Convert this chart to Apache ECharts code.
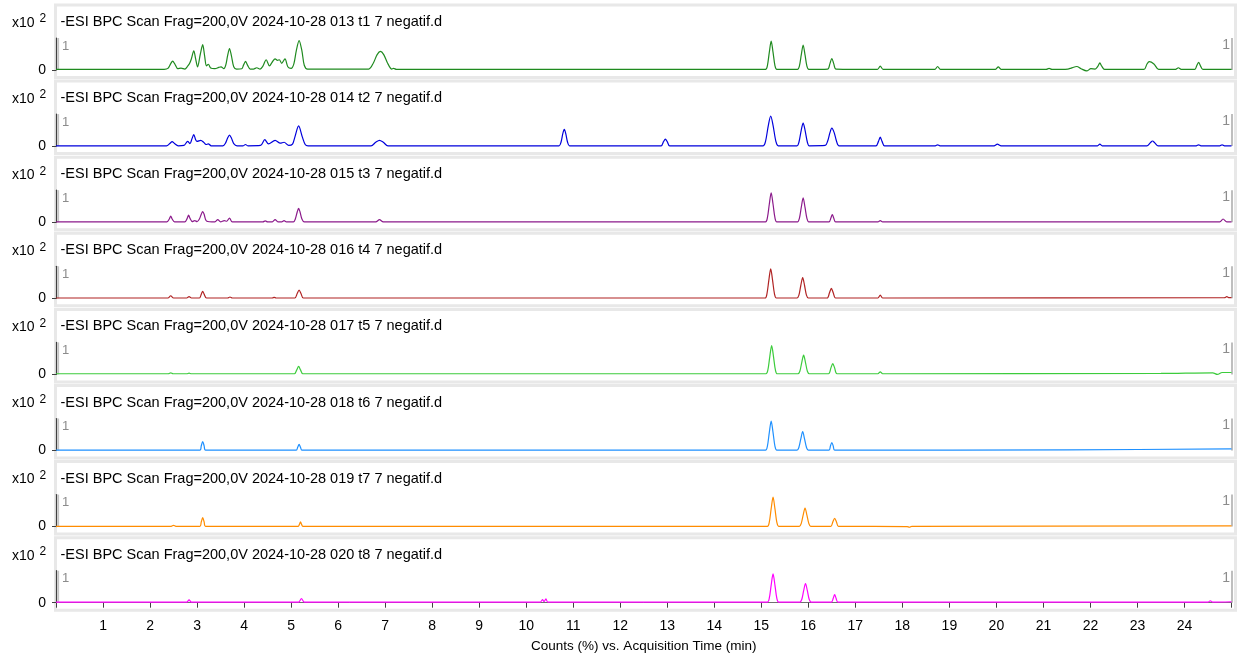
<!DOCTYPE html>
<html>
<head>
<meta charset="utf-8">
<title>BPC chromatograms</title>
<script src="https://cdn.jsdelivr.net/npm/echarts@6/dist/echarts.min.js"></script>
<style>
  html, body { margin: 0; padding: 0; background: #ffffff; }
  #chart { width: 1238px; height: 658px; }
</style>
</head>
<body>
<div id="chart"></div>
<script>
// Base peak chromatograms, one panel per injection (time in min, counts in x10^2 %)
const traceTitles = [
  '-ESI BPC Scan Frag=200,0V 2024-10-28 013 t1 7 negatif.d',
  '-ESI BPC Scan Frag=200,0V 2024-10-28 014 t2 7 negatif.d',
  '-ESI BPC Scan Frag=200,0V 2024-10-28 015 t3 7 negatif.d',
  '-ESI BPC Scan Frag=200,0V 2024-10-28 016 t4 7 negatif.d',
  '-ESI BPC Scan Frag=200,0V 2024-10-28 017 t5 7 negatif.d',
  '-ESI BPC Scan Frag=200,0V 2024-10-28 018 t6 7 negatif.d',
  '-ESI BPC Scan Frag=200,0V 2024-10-28 019 t7 7 negatif.d',
  '-ESI BPC Scan Frag=200,0V 2024-10-28 020 t8 7 negatif.d'
];

const traceColors = ['#1f8a1f', '#0000dc', '#8b1a8b', '#b02323', '#3ccc3c', '#1e90ff', '#ff8c00', '#ff00ff'];

const timeTicks = [1, 2, 3, 4, 5, 6, 7, 8, 9, 10, 11, 12, 13, 14, 15, 16, 17, 18, 19, 20, 21, 22, 23, 24];

const t1 = [
  [0,0.02],[2.3,0.02],[2.38,0.05],[2.44,0.2],[2.48,0.28],[2.53,0.18],[2.59,0.04],[2.66,0.06],[2.74,0.03],[2.8,0.12],
  [2.84,0.2],[2.88,0.35],[2.93,0.6],[2.97,0.35],[3.01,0.1],[3.07,0.5],[3.12,0.79],[3.16,0.45],[3.2,0.13],[3.24,0.18],
  [3.29,0.06],[3.38,0.04],[3.46,0.08],[3.51,0.1],[3.57,0.04],[3.61,0.15],[3.65,0.45],[3.69,0.67],[3.73,0.45],[3.78,0.1],
  [3.84,0.03],[3.95,0.04],[3.99,0.16],[4.03,0.27],[4.07,0.16],[4.13,0.03],[4.2,0.03],[4.27,0.07],[4.34,0.03],[4.4,0.12],
  [4.47,0.32],[4.54,0.13],[4.6,0.25],[4.66,0.35],[4.71,0.3],[4.75,0.32],[4.8,0.21],[4.87,0.35],[4.93,0.1],[5.0,0.05],
  [5.06,0.2],[5.11,0.6],[5.17,0.92],[5.23,0.6],[5.28,0.15],[5.35,0.03],[6.65,0.03],[6.75,0.22],[6.83,0.48],[6.9,0.58],
  [6.97,0.48],[7.05,0.22],[7.14,0.03],[7.18,0.05],[7.24,0.02],
  [15.09,0.02],[15.13,0.14],[15.17,0.55],[15.21,0.9],[15.25,0.55],[15.29,0.14],[15.33,0.02],[15.77,0.02],[15.81,0.12],
  [15.85,0.47],[15.89,0.78],[15.93,0.47],[15.97,0.12],[16.01,0.02],[16.41,0.03],[16.46,0.2],[16.5,0.36],[16.54,0.2],
  [16.59,0.03],[17.47,0.02],[17.53,0.12],[17.59,0.02],[18.69,0.02],[18.75,0.11],[18.81,0.02],[19.98,0.02],[20.04,0.1],
  [20.1,0.02],[21.06,0.02],[21.12,0.05],[21.18,0.02],[21.52,0.03],[21.59,0.06],[21.71,0.11],[21.8,0.04],[21.92,-0.03],
  [22.01,0.04],[22.1,0.03],[22.16,0.12],[22.2,0.22],[22.24,0.12],[22.3,0.02],[23.14,0.02],[23.2,0.18],[23.25,0.26],
  [23.35,0.19],[23.45,0.02],[23.81,0.02],[23.87,0.07],[23.93,0.02],[24.22,0.02],[24.26,0.13],[24.3,0.24],[24.34,0.13],
  [24.39,0.02],[25,0.02]
];

const t2 = [
  [0,0.01],[2.35,0.01],[2.42,0.08],[2.47,0.14],[2.52,0.08],[2.6,0.01],[2.72,0.02],[2.8,0.15],[2.85,0.08],[2.89,0.22],
  [2.93,0.36],[2.97,0.2],[3.0,0.15],[3.08,0.18],[3.14,0.12],[3.19,0.05],[3.24,0.07],[3.3,0.01],[3.55,0.01],[3.6,0.08],
  [3.65,0.25],[3.69,0.34],[3.73,0.25],[3.78,0.08],[3.85,0.01],[3.98,0.01],[4.03,0.05],[4.08,0.01],[4.35,0.02],[4.44,0.2],
  [4.52,0.07],[4.66,0.18],[4.77,0.09],[4.85,0.12],[4.95,0.02],[5.03,0.06],[5.08,0.28],[5.16,0.63],[5.24,0.28],[5.3,0.05],
  [5.36,0.01],[6.7,0.01],[6.8,0.12],[6.88,0.18],[6.96,0.12],[7.06,0.01],[10.7,0.01],[10.74,0.12],[10.78,0.4],[10.81,0.52],
  [10.84,0.4],[10.88,0.12],[10.92,0.01],[12.87,0.01],[12.92,0.14],[12.96,0.22],[13.0,0.14],[13.05,0.01],
  [15.04,0.01],[15.09,0.15],[15.15,0.65],[15.2,0.94],[15.25,0.65],[15.31,0.15],[15.36,0.01],[15.76,0.01],[15.8,0.12],
  [15.85,0.5],[15.89,0.72],[15.93,0.5],[15.98,0.12],[16.02,0.01],[16.36,0.02],[16.41,0.15],[16.46,0.42],[16.5,0.56],
  [16.55,0.42],[16.6,0.15],[16.65,0.01],[17.44,0.01],[17.49,0.14],[17.53,0.28],[17.57,0.14],[17.62,0.01],[18.7,0.01],
  [18.75,0.04],[18.8,0.01],[19.95,0.01],[20.02,0.06],[20.1,0.01],[22.15,0.01],[22.2,0.06],[22.25,0.01],[23.2,0.01],
  [23.27,0.1],[23.32,0.16],[23.37,0.1],[23.44,0.01],[24.25,0.01],[24.3,0.04],[24.35,0.01],[24.75,0.01],[24.8,0.04],
  [24.85,0.01],[25,0.01]
];

const t3 = [
  [0,0.01],[2.36,0.01],[2.41,0.1],[2.44,0.19],[2.47,0.1],[2.52,0.01],[2.74,0.01],[2.79,0.12],[2.82,0.22],[2.85,0.12],
  [2.9,0.02],[2.95,0.05],[3.0,0.02],[3.05,0.1],[3.09,0.25],[3.12,0.33],[3.15,0.25],[3.2,0.04],[3.38,0.01],[3.44,0.08],
  [3.5,0.01],[3.58,0.05],[3.63,0.03],[3.69,0.13],[3.75,0.01],[4.4,0.01],[4.45,0.04],[4.5,0.01],[4.6,0.01],[4.66,0.08],
  [4.72,0.01],[4.8,0.01],[4.85,0.05],[4.9,0.01],[5.05,0.01],[5.09,0.1],[5.13,0.32],[5.16,0.43],[5.19,0.32],[5.23,0.1],
  [5.28,0.01],[6.8,0.01],[6.88,0.08],[6.96,0.01],
  [15.09,0.01],[15.13,0.14],[15.17,0.56],[15.21,0.92],[15.25,0.56],[15.29,0.14],[15.33,0.01],[15.77,0.01],[15.81,0.12],
  [15.85,0.46],[15.89,0.76],[15.93,0.46],[15.97,0.12],[16.01,0.01],[16.44,0.01],[16.48,0.13],[16.51,0.24],[16.54,0.13],
  [16.58,0.01],[17.48,0.01],[17.53,0.05],[17.58,0.01],[24.75,0.01],[24.82,0.1],[24.9,0.01],[25,0.01]
];

const t4 = [
  [0,0.01],[2.38,0.01],[2.44,0.08],[2.5,0.01],[2.78,0.01],[2.83,0.05],[2.88,0.01],[3.05,0.01],[3.09,0.13],[3.12,0.22],
  [3.15,0.13],[3.2,0.01],[3.65,0.01],[3.7,0.04],[3.75,0.01],[4.6,0.01],[4.64,0.03],[4.68,0.01],[5.08,0.01],[5.13,0.15],
  [5.17,0.26],[5.21,0.15],[5.26,0.01],
  [15.08,0.01],[15.12,0.14],[15.16,0.56],[15.2,0.92],[15.24,0.56],[15.28,0.14],[15.32,0.01],[15.76,0.01],[15.8,0.1],
  [15.84,0.4],[15.88,0.65],[15.92,0.4],[15.96,0.1],[16.0,0.01],[16.4,0.01],[16.45,0.17],[16.49,0.31],[16.53,0.17],
  [16.58,0.01],[17.48,0.01],[17.53,0.1],[17.58,0.01],[24.85,0.02],[24.9,0.05],[24.95,0.02],[25,0.02]
];

const t5 = [
  [0,0.02],[2.39,0.02],[2.44,0.05],[2.49,0.02],[2.78,0.02],[2.83,0.04],[2.88,0.02],[5.07,0.02],[5.12,0.14],[5.16,0.25],
  [5.2,0.14],[5.25,0.02],
  [15.1,0.02],[15.14,0.14],[15.18,0.55],[15.22,0.9],[15.26,0.55],[15.3,0.14],[15.34,0.02],[15.78,0.02],[15.82,0.1],
  [15.86,0.37],[15.9,0.6],[15.94,0.37],[15.98,0.1],[16.02,0.02],[16.43,0.02],[16.48,0.2],[16.52,0.34],[16.56,0.2],
  [16.61,0.02],[17.48,0.02],[17.53,0.08],[17.58,0.02],[23.5,0.03],[24.6,0.05],[24.7,0.0],[24.8,0.06],[25,0.06]
];

const t6 = [
  [0,0.01],[3.06,0.01],[3.09,0.15],[3.12,0.28],[3.15,0.15],[3.18,0.01],[5.11,0.01],[5.14,0.1],[5.17,0.19],[5.2,0.1],
  [5.23,0.01],
  [15.09,0.01],[15.13,0.14],[15.17,0.56],[15.21,0.92],[15.25,0.56],[15.29,0.14],[15.33,0.01],[15.76,0.01],[15.8,0.1],
  [15.84,0.36],[15.88,0.59],[15.92,0.36],[15.96,0.1],[16.0,0.01],[16.44,0.01],[16.47,0.14],[16.5,0.25],[16.53,0.14],
  [16.56,0.01],[21.5,0.02],[25,0.05]
];

const t7 = [
  [0,0.01],[2.45,0.01],[2.5,0.04],[2.55,0.01],[3.06,0.01],[3.09,0.15],[3.12,0.28],[3.15,0.15],[3.18,0.01],[5.15,0.01],
  [5.18,0.08],[5.2,0.15],[5.22,0.08],[5.25,0.01],
  [15.13,0.01],[15.17,0.14],[15.21,0.56],[15.25,0.92],[15.29,0.56],[15.33,0.14],[15.37,0.01],[15.81,0.01],[15.85,0.1],
  [15.89,0.36],[15.93,0.58],[15.97,0.36],[16.01,0.1],[16.05,0.01],[16.48,0.01],[16.52,0.14],[16.56,0.26],[16.6,0.14],
  [16.64,0.01],[18.1,0.0],[18.15,-0.02],[18.2,0.01],[25,0.02]
];

const t8 = [
  [0,0.02],[2.78,0.02],[2.83,0.09],[2.88,0.02],[5.16,0.02],[5.22,0.13],[5.28,0.02],[10.3,0.02],[10.35,0.1],[10.38,0.03],
  [10.42,0.12],[10.46,0.02],
  [15.13,0.02],[15.17,0.14],[15.21,0.55],[15.25,0.9],[15.29,0.55],[15.33,0.14],[15.37,0.02],[15.82,0.02],[15.86,0.1],
  [15.9,0.37],[15.94,0.6],[15.98,0.37],[16.02,0.1],[16.06,0.02],[16.49,0.02],[16.53,0.14],[16.56,0.25],[16.59,0.14],
  [16.63,0.02],[24.5,0.02],[24.55,0.06],[24.6,0.02],[25,0.03]
];

const traces = [t1, t2, t3, t4, t5, t6, t7, t8];

// Panel geometry
const W = 1238;
const plotLeft = 56;
const plotRight = 1231.5;
const firstZeroY = 70;
const panelStep = 76.1;
const plotH = 32;
const FONT = 'Liberation Sans, Arial, sans-serif';

const grids = [], xAxes = [], yAxes = [], series = [], graphics = [];

traces.forEach((data, i) => {
  const zeroY = firstZeroY + i * panelStep;
  const topY = zeroY - plotH;
  const last = i === traces.length - 1;

  grids.push({ left: plotLeft, right: W - plotRight, top: topY, height: plotH });

  xAxes.push({
    type: 'value', gridIndex: i, min: 0, max: 25, interval: 1,
    show: last,
    offset: 10.5,
    axisLine: { show: true, lineStyle: { color: '#707070', width: 1 } },
    axisTick: { show: true, length: 5, lineStyle: { color: '#404040', width: 1 } },
    axisLabel: {
      show: true, color: '#000', fontSize: 14, fontFamily: FONT, margin: 6,
      formatter: v => (timeTicks.indexOf(v) >= 0 ? String(v) : '')
    },
    splitLine: { show: false },
    name: last ? 'Counts (%) vs. Acquisition Time (min)' : '',
    nameLocation: 'middle', nameGap: 26,
    nameTextStyle: { color: '#000', fontSize: 13.5, fontFamily: FONT }
  });

  yAxes.push({
    type: 'value', gridIndex: i, min: 0, max: 1, interval: 1,
    offset: 2,
    axisLine: { show: true, lineStyle: { color: '#404040', width: 1.2 } },
    axisTick: { show: true, length: 4, customValues: [0], lineStyle: { color: '#404040' } },
    axisLabel: { show: true, customValues: [0], color: '#000', fontSize: 14, fontFamily: FONT, margin: 8 },
    splitLine: { show: false }
  });

  series.push({
    type: 'line', xAxisIndex: i, yAxisIndex: i, data: data,
    showSymbol: false, symbol: 'none', smooth: 0.3, clip: false,
    lineStyle: { color: traceColors[i], width: 1.2 },
    silent: true, animation: false
  });

  // panel frame
  graphics.push({
    type: 'rect', silent: true, z: -10,
    shape: { x: 55.5, y: zeroY - 65, width: 1180, height: 72.5 },
    style: { fill: '#ffffff', stroke: '#e8e8e8', lineWidth: 3 }
  });
  // range marker lines
  graphics.push({
    type: 'line', silent: true, z: 1,
    shape: { x1: 58.2, y1: topY, x2: 58.2, y2: zeroY },
    style: { stroke: '#c4c4c4', lineWidth: 1.8 }
  });
  graphics.push({
    type: 'line', silent: true, z: 1,
    shape: { x1: 1232, y1: topY, x2: 1232, y2: zeroY },
    style: { stroke: '#a8a8a8', lineWidth: 1.5 }
  });
  graphics.push({
    type: 'text', silent: true, z: 2, x: 62, y: zeroY - 24,
    style: { text: '1', fill: '#8c8c8c', fontSize: 13, fontFamily: FONT, verticalAlign: 'middle' }
  });
  graphics.push({
    type: 'text', silent: true, z: 2, x: 1230, y: zeroY - 25,
    style: { text: '1', fill: '#8c8c8c', fontSize: 14, fontFamily: FONT, verticalAlign: 'middle', align: 'right' }
  });
  // header
  graphics.push({
    type: 'text', silent: true, z: 2, x: 60.5, y: zeroY - 48,
    style: { text: traceTitles[i], fill: '#000', fontSize: 14.5, fontFamily: FONT, verticalAlign: 'middle' }
  });
  // scale factor
  graphics.push({
    type: 'text', silent: true, z: 2, x: 12, y: zeroY - 47,
    style: {
      text: '{a|x10 }{b|2}', verticalAlign: 'middle',
      rich: {
        a: { fontSize: 14, fontFamily: FONT, fill: '#000' },
        b: { fontSize: 12, fontFamily: FONT, fill: '#000', padding: [0, 0, 8, 1] }
      }
    }
  });
});

const chart = echarts.init(document.getElementById('chart'), null, { renderer: 'canvas' });
chart.setOption({
  backgroundColor: '#ffffff',
  animation: false,
  grid: grids,
  xAxis: xAxes,
  yAxis: yAxes,
  series: series,
  graphic: graphics
});
</script>
</body>
</html>
